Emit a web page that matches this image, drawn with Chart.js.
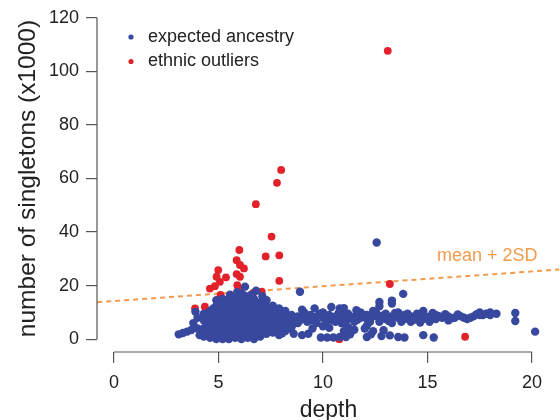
<!DOCTYPE html>
<html>
<head>
<meta charset="utf-8">
<script src="https://cdn.jsdelivr.net/npm/chart.js@4.4.1/dist/chart.umd.min.js"></script>
<style>
  html, body { margin: 0; padding: 0; background: #ffffff; }
  #wrap { width: 560px; height: 420px; position: relative; }
</style>
</head>
<body>
<div id="wrap"><canvas id="plot"></canvas></div>
<script>
// depth vs singletons (x1000)
const seriesNames = ["expected ancestry", "ethnic outliers"];
const xTicks = [0, 5, 10, 15, 20];
const yTicks = [0, 20, 40, 60, 80, 100, 120];

const expectedAncestry = [
    [3.1, 1.8], [3.3, 2.3], [3.5, 2.8], [3.7, 3.4], [3.9, 10.2], [3.8, 6.0], [4.0, 4.0], [4.1, 1.5], [4.0, 8.0],
    [4.3, 1.0], [4.3, 4.0], [4.3, 7.0], [4.3, 9.5],
    [4.6, 0.5], [4.6, 3.0], [4.6, 5.5], [4.6, 8.0], [4.6, 10.5],
    [4.9, 0.0], [4.9, 2.5], [4.9, 5.0], [4.9, 7.5], [4.9, 10.0], [4.9, 12.5], [4.9, 14.5],
    [5.2, 0.0], [5.2, 2.5], [5.2, 5.0], [5.2, 7.5], [5.2, 10.0], [5.2, 12.5], [5.2, 15.0],
    [5.5, 0.0], [5.5, 2.5], [5.5, 5.0], [5.5, 7.5], [5.5, 10.0], [5.5, 12.5], [5.5, 15.0], [5.55, 16.6],
    [5.8, 0.5], [5.8, 3.0], [5.8, 5.5], [5.8, 8.0], [5.8, 10.5], [5.8, 13.0], [5.8, 15.5], [5.9, 17.5],
    [6.1, 0.0], [6.1, 2.5], [6.1, 5.0], [6.1, 7.5], [6.1, 10.0], [6.1, 12.5], [6.1, 15.0], [6.1, 17.0],
    [6.4, 0.5], [6.4, 3.0], [6.4, 5.5], [6.4, 8.0], [6.4, 10.5], [6.4, 13.0], [6.4, 15.5], [6.27, 19.6],
    [6.7, 0.0], [6.7, 2.5], [6.7, 5.0], [6.7, 7.5], [6.7, 10.0], [6.7, 12.5], [6.7, 15.0], [6.8, 18.1],
    [7.0, 1.0], [7.0, 3.5], [7.0, 6.0], [7.0, 8.5], [7.0, 11.0], [7.0, 13.5], [7.1, 16.0],
    [7.3, 2.0], [7.3, 4.5], [7.3, 7.0], [7.3, 9.5], [7.3, 12.0], [7.3, 14.5],
    [7.6, 2.5], [7.6, 5.0], [7.6, 7.5], [7.6, 10.0], [7.6, 12.5],
    [7.9, 1.5], [7.9, 4.0], [7.9, 6.5], [7.9, 9.0], [7.9, 11.5],
    [8.2, 3.0], [8.2, 5.5], [8.2, 8.0], [8.2, 10.5],
    [8.5, 4.5], [8.5, 7.0], [8.5, 9.0], [8.9, 17.7],
    [4.45, 2.5], [4.45, 5.5], [4.45, 8.5], [4.75, 1.5], [4.75, 4.0], [4.75, 6.5], [4.75, 9.0], [4.75, 11.5],
    [5.05, 1.2], [5.05, 3.7], [5.05, 6.2], [5.05, 8.7], [5.05, 11.2], [5.05, 13.7],
    [5.35, 1.2], [5.35, 3.7], [5.35, 6.2], [5.35, 8.7], [5.35, 11.2], [5.35, 13.7],
    [5.65, 1.2], [5.65, 3.7], [5.65, 6.2], [5.65, 8.7], [5.65, 11.2], [5.65, 13.7],
    [5.95, 1.7], [5.95, 4.2], [5.95, 6.7], [5.95, 9.2], [5.95, 11.7], [5.95, 14.2],
    [6.25, 1.2], [6.25, 3.7], [6.25, 6.2], [6.25, 8.7], [6.25, 11.2], [6.25, 13.7], [6.25, 16.2],
    [6.55, 1.7], [6.55, 4.2], [6.55, 6.7], [6.55, 9.2], [6.55, 11.7], [6.55, 14.2], [6.55, 16.5],
    [6.85, 1.2], [6.85, 3.7], [6.85, 6.2], [6.85, 8.7], [6.85, 11.2], [6.85, 13.7],
    [7.15, 2.2], [7.15, 4.7], [7.15, 7.2], [7.15, 9.7], [7.15, 12.2],
    [7.45, 3.2], [7.45, 5.7], [7.45, 8.2], [7.45, 10.7], [7.75, 3.2], [7.75, 5.7], [7.75, 8.2], [7.75, 10.5],
    [8.05, 2.2], [8.05, 4.7], [8.05, 7.2], [8.05, 9.7], [8.35, 4.0], [8.35, 6.5], [8.35, 8.5],
    [8.65, 6.0], [8.65, 8.0], [8.6, 2.0],
    [8.8, 8.5], [8.8, 6.0], [9.1, 8.0], [9.1, 10.0], [9.4, 7.0], [9.4, 9.0], [9.7, 8.5], [9.7, 6.0],
    [10.0, 8.0], [10.0, 10.0], [10.3, 7.5], [10.3, 9.0], [10.6, 8.5], [10.6, 6.5], [10.8, 11.5],
    [10.9, 8.0], [10.9, 10.0], [10.9, 5.9], [11.2, 7.5], [11.2, 9.5], [11.5, 8.5], [11.5, 6.5],
    [11.8, 8.0], [11.8, 10.0], [12.1, 7.5], [12.1, 9.0], [12.1, 5.0], [12.4, 8.5], [12.4, 10.5], [12.4, 3.0],
    [12.7, 8.0], [12.7, 13.9], [12.7, 12.3], [12.7, 6.5], [13.0, 7.5], [13.0, 9.5],
    [13.3, 8.5], [13.3, 13.3], [13.3, 14.4], [13.3, 6.0], [13.6, 8.0], [13.6, 10.0], [13.9, 7.5], [13.9, 9.0],
    [14.2, 8.5], [14.2, 6.5], [14.5, 8.0], [14.5, 9.5], [14.8, 7.5], [14.8, 9.0], [14.8, 10.5],
    [15.1, 8.5], [15.1, 6.5], [15.4, 7.5], [15.4, 9.0], [15.7, 8.0], [16.0, 8.5], [16.0, 7.0],
    [16.3, 8.0], [16.6, 8.5], [16.9, 7.5], [17.2, 8.5], [17.5, 9.0], [17.5, 10.0], [17.8, 9.5],
    [18.0, 10.0], [18.0, 9.0], [18.3, 9.5],
    [9.0, 11.0], [9.6, 11.5], [10.4, 12.0], [11.0, 11.6], [11.6, 10.8],
    [8.95, 7.2], [9.25, 6.5], [9.55, 7.8], [9.85, 9.5], [10.15, 6.8], [10.45, 7.0], [10.75, 9.8],
    [11.05, 6.8], [11.35, 8.0], [11.65, 7.2], [11.95, 9.0], [12.25, 6.5], [12.55, 9.8], [12.85, 8.8],
    [13.15, 6.8], [13.45, 9.8], [13.75, 6.5], [14.05, 9.5], [14.35, 7.2], [14.65, 6.2], [14.95, 8.0],
    [15.25, 9.8], [15.55, 8.6], [15.85, 9.3], [16.15, 7.8], [16.45, 9.2], [16.75, 8.0], [17.05, 8.0],
    [17.35, 9.3], [17.65, 9.0],
    [19.2, 9.8], [19.2, 6.8], [20.15, 2.8], [12.57, 36.1], [13.84, 16.9],
    [9.5, 4.0], [10.0, 4.8], [10.3, 4.2], [11.0, 3.0],
    [9.0, 1.5], [9.3, 2.0], [9.9, 0.6], [10.2, 0.6], [10.5, 0.6], [10.8, 0.8], [11.1, 0.8], [11.3, 1.8],
    [11.2, 4.5], [11.5, 3.5], [12.1, 0.8], [12.3, 1.8], [12.8, 1.2], [13.2, 1.4], [13.6, 0.8], [13.9, 0.6],
    [14.8, 1.5], [15.3, 0.6], [12.0, 4.0], [12.9, 3.3]
];

const ethnicOutliers = [
    [13.1, 107.7], [8.0, 63.2], [7.8, 58.4], [6.79, 50.4], [7.54, 38.3], [6.0, 33.3], [7.26, 30.9],
    [7.91, 31.3], [5.87, 29.5], [6.03, 27.7], [6.22, 26.4], [4.99, 25.8], [5.87, 24.3], [6.03, 23.3],
    [4.91, 23.3], [5.36, 23.1], [7.91, 21.8], [5.07, 21.4], [4.83, 19.8], [4.59, 18.9], [5.9, 20.2],
    [5.95, 18.9], [13.2, 20.6], [5.04, 14.6], [6.67, 17.3], [7.07, 17.7], [3.88, 11.5], [4.35, 12.1],
    [5.71, 12.7], [16.8, 0.9], [10.78, 0.0], [5.1, 16.5], [6.0, 16.0]
];

// mean + 2SD threshold, end points read at the plot edges
const meanLine = [[-0.8, 13.8], [21.3, 26.0]];
const meanLabel = "mean + 2SD";

const blue = "#37489e";
const red = "#e2212a";
const orange = "#f29b4c";
const axisGrey = "#555555";
const fontFam = "'Liberation Sans', Arial, Helvetica, sans-serif";

function toPoints(arr) {
    return arr.map(p => ({ x: p[0], y: p[1] }));
}

// no extra label padding, the plot box is fixed
function fixBox(s) {
    s.paddingTop = 0;
    s.paddingBottom = 0;
    s.paddingLeft = 0;
    s.paddingRight = 0;
}

const rAxes = {
    id: "rAxes",
    afterDraw(chart) {
        const c = chart.ctx;
        const xs = chart.scales.x, ys = chart.scales.y;
        const area = chart.chartArea;
        c.save();
        c.strokeStyle = axisGrey;
        c.lineWidth = 1.2;
        c.beginPath();
        c.moveTo(xs.getPixelForValue(xTicks[0]), area.bottom);
        c.lineTo(xs.getPixelForValue(xTicks[xTicks.length - 1]), area.bottom);
        c.moveTo(area.left, ys.getPixelForValue(yTicks[0]));
        c.lineTo(area.left, ys.getPixelForValue(yTicks[yTicks.length - 1]));
        c.stroke();

        // legend, top left
        const items = [[seriesNames[0], blue], [seriesNames[1], red]];
        c.font = "18px " + fontFam;
        c.textBaseline = "middle";
        items.forEach((it, i) => {
            const yy = 37 + i * 24.5;
            c.fillStyle = it[1];
            c.beginPath();
            c.arc(131, yy, 2.6, 0, Math.PI * 2);
            c.fill();
            c.fillStyle = "#222222";
            c.fillText(it[0], 148, yy);
        });

        // threshold label
        c.fillStyle = orange;
        c.fillText(meanLabel, xs.getPixelForValue(15.45), ys.getPixelForValue(31));
        c.restore();
    }
};

new Chart(document.getElementById("plot"), {
    type: "scatter",
    data: {
        datasets: [
            {
                label: seriesNames[0],
                data: toPoints(expectedAncestry),
                backgroundColor: blue,
                borderWidth: 0,
                pointRadius: 4.2,
                order: 1
            },
            {
                label: seriesNames[1],
                data: toPoints(ethnicOutliers),
                backgroundColor: red,
                borderWidth: 0,
                pointRadius: 3.9,
                order: 2
            },
            {
                type: "line",
                label: meanLabel,
                data: toPoints(meanLine),
                borderColor: orange,
                borderWidth: 2,
                borderDash: [5, 4],
                pointRadius: 0,
                fill: false,
                order: 3
            }
        ]
    },
    options: {
        responsive: true,
        maintainAspectRatio: false,
        animation: false,
        layout: { autoPadding: false, padding: { top: 5, right: 0, left: 0, bottom: 0 } },
        plugins: {
            legend: { display: false },
            tooltip: { enabled: false }
        },
        scales: {
            x: {
                type: "linear",
                min: -0.81,
                max: 21.34,
                afterBuildTicks: s => { s.ticks = xTicks.map(v => ({ value: v })); },
                afterFit: s => { s.height = 68; fixBox(s); },
                border: { display: false },
                grid: { drawOnChartArea: false, drawTicks: true, tickLength: 11, color: axisGrey, lineWidth: 1.2 },
                ticks: { padding: 9, color: "#222222", font: { family: fontFam, size: 18 } },
                title: {
                    display: true,
                    text: "depth",
                    color: "#222222",
                    padding: { top: 0, bottom: 0 },
                    font: { family: fontFam, size: 23, lineHeight: 0.85 }
                }
            },
            y: {
                type: "linear",
                min: -4.8,
                max: 124.8,
                afterBuildTicks: s => { s.ticks = yTicks.map(v => ({ value: v })); },
                afterFit: s => { s.width = 97; fixBox(s); },
                border: { display: false },
                grid: { drawOnChartArea: false, drawTicks: true, tickLength: 11, color: axisGrey, lineWidth: 1.2 },
                ticks: { padding: 7, color: "#222222", font: { family: fontFam, size: 18 } },
                title: {
                    display: true,
                    text: "number of singletons (x1000)",
                    color: "#222222",
                    padding: { top: 14, bottom: 0 },
                    font: { family: fontFam, size: 24.5 }
                }
            }
        }
    },
    plugins: [rAxes]
});
</script>
</body>
</html>
